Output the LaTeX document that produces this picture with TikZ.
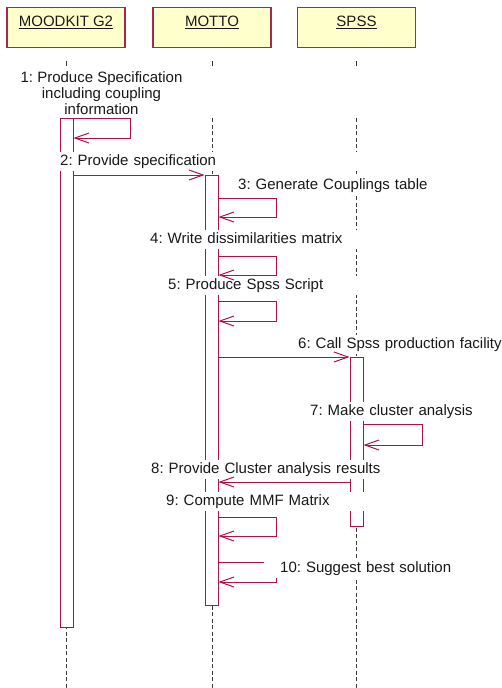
\documentclass[tikz,border=0pt]{standalone}
\usepackage{fontspec}
\setmainfont{Liberation Sans}
\usetikzlibrary{arrows.meta}
\definecolor{boxfill}{RGB}{255,255,204}
\definecolor{boxline}{RGB}{165,40,80}
\definecolor{msgcol}{RGB}{170,20,70}
\definecolor{lifecol}{RGB}{60,60,60}
\definecolor{txtcol}{RGB}{25,25,25}
\frenchspacing
\begin{document}
\begin{tikzpicture}[x=1pt,y=-1pt,
  font=\fontsize{15}{16}\selectfont\frenchspacing,
  every node/.style={text=txtcol},
  hdr/.style={draw=boxline, line width=1.2pt, fill=boxfill, minimum width=118pt,
    minimum height=40pt, inner sep=0pt, text height=19pt, text depth=21pt, anchor=north},
  act/.style={draw=msgcol, line width=1pt, fill=white, minimum width=13pt,
    inner sep=0pt, anchor=north},
  life/.style={draw=lifecol, line width=1pt, dash pattern=on 4pt off 2.5pt},
  tick/.style={draw=lifecol, line width=1pt},
  msg/.style={draw=msgcol, line width=1pt, -{Straight Barb[length=14pt,width=10pt]}},
  lbl/.style={fill=white, anchor=west, inner xsep=2pt, inner ysep=2.5pt,
    text height=11pt, text depth=3pt, align=left, text width=440pt}]
\useasboundingbox[fill=white] (0,0) rectangle (502,688);

% headers
\node[hdr] (h1) at (66,7) {\underline{MOODKIT G2}};
\node[hdr] (h2) at (212,7) {\underline{MOTTO}};
\node[hdr] (h3) at (356.5,7) {\underline{SPSS}};

% lifelines
\draw[tick] (h1.south |- 0,61) -- (h1.south |- 0,66);
\draw[tick] (h2.south |- 0,61) -- (h2.south |- 0,66);
\draw[tick] (h3.south |- 0,61) -- (h3.south |- 0,66);
\draw[life] (h1.south |- 0,118) -- (h1.south |- 0,688);
\draw[life] (h2.south |- 0,118) -- (h2.south |- 0,688);
\draw[life] (h3.south |- 0,118) -- (h3.south |- 0,688);

% activations
\node[act, minimum height=509pt] (a1) at (66.5,118) {};
\node[act, minimum height=430pt] (a2) at (211.5,175) {};
\node[act, minimum height=169pt] (a3) at (356.5,357) {};

% message 10 (partly hidden by its label)
\coordinate (c10) at (276,562);
\draw[msg] (a2.east |- c10) -- (c10) -- (c10 |- 0,582) -- (a2.east |- 0,582);

% labels
\node[anchor=north, inner sep=0pt, align=center] (l1) at (101.5,71)
  {1: Produce Specification\\including coupling\\information};
\node[lbl] (l2) at (58,161) {2: Provide specification};
\node[lbl] (l3) at (236,185) {3: Generate Couplings table};
\node[lbl] (l4) at (148,239) {4: Write dissimilarities matrix};
\node[lbl] (l5) at (166,285) {5: Produce Spss Script};
\node[lbl] (l6) at (296,344) {6: Call Spss production facility};
\node[lbl] (l7) at (308,411) {7: Make cluster analysis};
\node[lbl] (l8) at (149,469) {8: Provide Cluster analysis results};
\node[lbl] (l9) at (164,501) {9: Compute MMF Matrix};
\node[lbl] (l10) at (264,568) {\hspace*{14pt}10: Suggest best solution};

% messages
\draw[msg] (a1.north east) -- (130,118) -- (130,138) -- (a1.east |- 0,138);
\draw[msg] (a1.east |- 0,175) -- (a2.north west);
\draw[msg] (a2.east |- 0,198) -- (276,198) -- (276,217) -- (a2.east |- 0,217);
\draw[msg] (a2.east |- 0,256) -- (276,256) -- (276,275) -- (a2.east |- 0,275);
\draw[msg] (a2.east |- 0,301) -- (276,301) -- (276,321) -- (a2.east |- 0,321);
\draw[msg] (a2.east |- 0,357) -- (a3.north west);
\draw[msg] (a3.east |- 0,424) -- (422,424) -- (422,445) -- (a3.east |- 0,445);
\draw[msg] (a3.west |- 0,482) -- (a2.east |- 0,482);
\draw[msg] (a2.east |- 0,517) -- (276,517) -- (276,536) -- (a2.east |- 0,536);
\end{tikzpicture}
\end{document}
